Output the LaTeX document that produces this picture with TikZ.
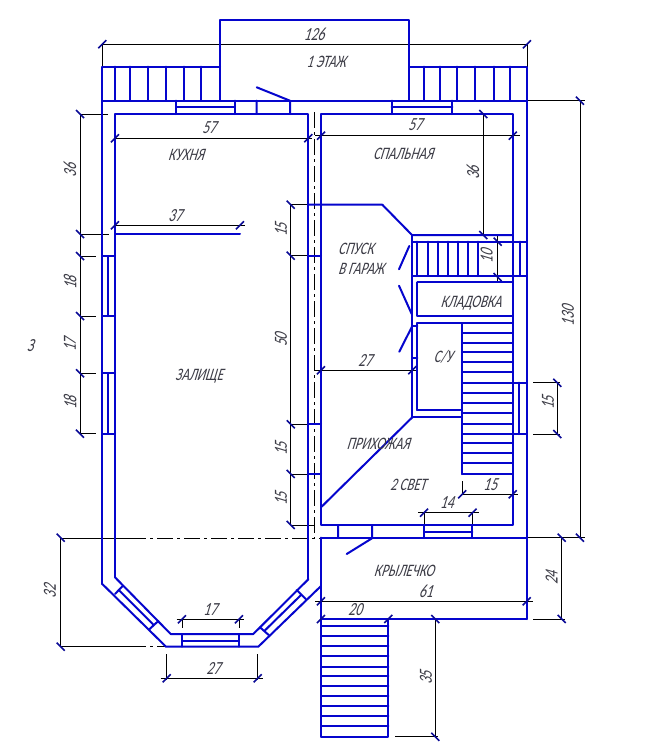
\documentclass[tikz,border=0pt]{standalone}
\usepackage{fontspec}
\setmainfont{Carlito}
\newfontfamily\draftfont[FakeSlant=0.3,FakeStretch=0.74]{Carlito}
\definecolor{wallblue}{RGB}{5,5,205}
\definecolor{tickblue}{RGB}{10,10,150}
\definecolor{labelgrey}{RGB}{60,60,70}
\tikzset{
  wall/.style={draw=wallblue,line width=2pt,line cap=round,line join=round},
  dimline/.style={draw=black,line width=0.9pt},
  axisline/.style={draw=black,line width=0.9pt,dash pattern=on 16pt off 4pt on 3pt off 4pt},
  tickmark/.style={draw=tickblue,line width=1.6pt},
  roomlabel/.style={font=\draftfont\fontsize{17.5}{19}\selectfont,text=labelgrey,inner sep=0pt},
  dimlabel/.style={font=\draftfont\fontsize{18.5}{20}\selectfont,text=labelgrey,inner sep=0pt},
}
\newcommand{\HTick}[2]{\draw[tickmark] (#1-4,#2+4) -- (#1+4,#2-4);}
\newcommand{\VTick}[2]{\draw[tickmark] (#1-4,#2-4) -- (#1+4,#2+4);}
\begin{document}
\begin{tikzpicture}[x=1pt,y=-1pt]
\useasboundingbox (0,0) rectangle (659,744);
\fill[white] (0,0) rectangle (659,744);

% ---------- dimension lines
\draw[dimline] (102.3,66.7) -- (102.3,44.3) -- (527,44.3) -- (527,66.7);
\draw[dimline] (115,138.3) -- (312,138.3);
\draw[dimline] (315,135.7) -- (520,135.7);
\draw[dimline] (108,114) -- (80,114) -- (80,234) -- (109,234);
\draw[dimline] (80,234) -- (80,433.7);
\draw[dimline] (80,256) -- (96,256) (80,316) -- (96,316) (80,373.3) -- (96,373.3) (80,433.7) -- (96,433.7);
\draw[dimline] (115,225.3) -- (245,225.3);
\draw[dimline] (483.3,114) -- (483.3,235);
\draw[dimline] (497.6,235) -- (497.6,281.7);
\draw[dimline] (527,100.7) -- (585,100.7) (580,100.7) -- (580,537.7);
\draw[dimline] (290.7,204.7) -- (290.7,525);
\draw[dimline] (290.7,204.7) -- (308,204.7) (290.7,255.7) -- (308,255.7) (290.7,424.3) -- (308,424.3) (290.7,474) -- (308,474) (290.7,525) -- (315,525);
\draw[dimline] (314,370.3) -- (418,370.3);
\draw[dimline] (533,382.7) -- (560,382.7) (533,434) -- (560,434) (557.3,382.7) -- (557.3,434);
\draw[dimline] (462.3,481) -- (462.3,494.3) -- (518,494.3);
\draw[dimline] (418.3,512.7) -- (479,512.7) (424,512.7) -- (424,525) (472.5,512.7) -- (472.5,525);
\draw[dimline] (526,537.7) -- (585,537.7) (561.7,537.7) -- (561.7,619) (533,619) -- (565,619);
\draw[dimline] (315,601.3) -- (533,601.3);
\draw[dimline] (395,736.7) -- (438,736.7) (435.3,619) -- (435.3,736.7);
\draw[dimline] (60.7,537.7) -- (60.7,646.7);
\draw[dimline] (60.7,538) -- (130,538) (60.7,646.7) -- (130,646.7);
\draw[axisline] (130,538) -- (321,538);
\draw[axisline] (130,646.7) -- (166,646.7);
\draw[axisline] (314.3,112) -- (314.3,538);
\draw[dimline] (176.7,619.3) -- (244,619.3) (182,619.3) -- (182,628) (239,619.3) -- (239,628);
\draw[dimline] (160.7,678.3) -- (262.7,678.3) (166.7,654) -- (166.7,680) (257.7,654) -- (257.7,680);

% ---------- walls
\draw[wall] (102.3,584) -- (102.3,66.7) -- (220,66.7) (220,100.7) -- (220,20) -- (409,20) -- (409,100.7) (409,66.7) -- (526.7,66.7) -- (526.7,619);
\draw[wall] (102.3,100.7) -- (526.7,100.7);
\foreach \sx in {115,130,148,166,184,201,424,440,456.7,475,494,510}
  \draw[wall] (\sx,66.7) -- (\sx,100.7);
\draw[wall] (115,577.3) -- (115,114) -- (308.3,114) -- (308.3,579.3);
\draw[wall] (115,577.3) -- (170.7,634) -- (253.3,634) -- (308.3,579.3);
\draw[wall] (102.3,584) -- (166,646.7) -- (258.3,646.7) -- (321,586);
\draw[wall] (115,234) -- (240,234);
\draw[wall] (321,525) -- (321,114) -- (512.7,114) -- (512.7,525) -- cycle;
\draw[wall] (321,537.7) -- (526.7,537.7);
\draw[wall] (321,537.7) -- (321,736.7);
\draw[wall] (308.3,204.7) -- (382.3,204.7) -- (412,235) -- (512.7,235);
\foreach \sy in {255.7,424.3,474}
  \draw[wall] (308.3,\sy) -- (321,\sy);
\draw[wall] (412.3,235) -- (412.3,417.3);
\draw[wall] (412.3,241.7) -- (526.7,241.7) (412.3,276) -- (526.7,276);
\foreach \sx in {417.3,427.7,437.7,447.7,457.7,467.7,478,520}
  \draw[wall] (\sx,241.7) -- (\sx,276);
\draw[wall] (417.3,282.3) -- (512.7,282.3) (417.3,282.3) -- (417.3,316) -- (512.7,316);
\draw[wall] (412.3,326) -- (417.3,326) (412.3,358.3) -- (417.3,358.3);
\draw[wall] (417.3,410) -- (417.3,322.7) -- (462,322.7) -- (462,474);
\draw[wall] (417.3,410) -- (462,410) (412.3,417.3) -- (462,417.3);
\draw[wall] (412.3,417.3) -- (321,507.3);
\foreach \sy in {323.3,333.3,342.7,351.7,362,372.3,382.7,392.7,402.7,413.3,424,434,443.3,453.3,463.3,474}
  \draw[wall] (462,\sy) -- (512.7,\sy);
\draw[wall] (512.7,382.7) -- (526.7,382.7) (512.7,434) -- (526.7,434) (519.3,382.7) -- (519.3,434);
\draw[wall] (409.3,246) -- (399,269.3) (399,285.7) -- (411.7,314) (412.3,326) -- (399.3,351.7);
\draw[wall] (176,100.7) -- (176,114) (235,100.7) -- (235,114) (176,106.7) -- (235,106.7);
\draw[wall] (256.7,100.7) -- (256.7,114) (290,100.7) -- (290,114) (256.7,87.3) -- (290,100.7);
\draw[wall] (391.7,100.7) -- (391.7,114) (452.3,100.7) -- (452.3,114) (391.7,106.7) -- (452.3,106.7);
\draw[wall] (102.3,256) -- (115,256) (102.3,316) -- (115,316) (108.3,256) -- (108.3,316);
\draw[wall] (102.3,373.3) -- (115,373.3) (102.3,433.7) -- (115,433.7) (108.3,373.3) -- (108.3,433.7);
\draw[wall] (338,525) -- (338,537.7) (372,525) -- (372,537.7) (372,538.3) -- (346.7,554);
\draw[wall] (424,525) -- (424,537.7) (472.3,525) -- (472.3,537.7) (424,532) -- (472.3,532);
\draw[wall] (122.7,586) -- (115,594) (158.3,621) -- (149.3,629.3) (118.8,590) -- (153.8,625);
\draw[wall] (296.7,590) -- (306,599.3) (260,627.3) -- (268.7,635) (301.3,594.7) -- (264.3,631);
\draw[wall] (182,634) -- (182,646.7) (239,634) -- (239,646.7) (182,640.7) -- (239,640.7);
\draw[wall] (321,619) -- (526.7,619);
\draw[wall] (388.3,619) -- (388.3,736.7) -- (321,736.7);
\foreach \sy in {625.7,635.7,645.7,656,666.7,676,686,696,706,716,726}
  \draw[wall] (321,\sy) -- (388.3,\sy);

% ---------- tick marks
\HTick{102.3}{44.3}\HTick{527}{44.3}
\HTick{115}{138.3}\HTick{308.3}{138.3}
\HTick{321}{135.7}\HTick{512.7}{135.7}
\HTick{115}{225.3}\HTick{240}{225.3}
\VTick{80}{114}\VTick{80}{234}\VTick{80}{256}\VTick{80}{316}\VTick{80}{373.3}\VTick{80}{433.7}
\VTick{483.3}{114}\VTick{483.3}{235}
\VTick{497.6}{241.7}\VTick{497.6}{277}
\VTick{580}{100.7}\VTick{580}{537.7}
\VTick{290.7}{204.7}\VTick{290.7}{255.7}\VTick{290.7}{424.3}\VTick{290.7}{474}\VTick{290.7}{525}
\HTick{321}{370.3}\HTick{412.3}{370.3}
\VTick{557.3}{382.7}\VTick{557.3}{434}
\HTick{462.3}{494.3}\HTick{512.7}{494.3}
\HTick{424}{512.7}\HTick{472.5}{512.7}
\VTick{561.7}{537.7}\VTick{561.7}{619}
\HTick{321}{601.3}\HTick{526.7}{601.3}
\HTick{321}{619}\HTick{388.3}{619}
\VTick{435.3}{619}\VTick{435.3}{736.7}
\VTick{60.7}{537.7}\VTick{60.7}{646.7}
\HTick{182}{619.3}\HTick{239}{619.3}
\HTick{166.7}{678.3}\HTick{257.7}{678.3}

% ---------- room labels
\node[roomlabel] (l1) at (326,62) {1 ЭТАЖ};
\node[roomlabel] (l2) at (186,155) {КУХНЯ};
\node[roomlabel] (l3) at (403,154) {СПАЛЬНАЯ};
\node[roomlabel,anchor=west] (l4) at (338,249) {СПУСК};
\node[roomlabel,anchor=west] (l5) at (338,269) {В ГАРАЖ};
\node[roomlabel] (l6) at (471,303) {КЛАДОВКА};
\node[roomlabel] (l7) at (443,357) {С/У};
\node[roomlabel] (l8) at (199,376) {ЗАЛИЩЕ};
\node[roomlabel] (l9) at (378,444) {ПРИХОЖАЯ};
\node[roomlabel] (l10) at (408,485) {2 СВЕТ};
\node[roomlabel] (l11) at (404,571) {КРЫЛЕЧКО};
\node[dimlabel] (l12) at (30,346) {З};

% ---------- dimension labels
\node[dimlabel] (d1) at (314,34) {126};
\node[dimlabel] (d2) at (209,128) {57};
\node[dimlabel] (d3) at (415,125) {57};
\node[dimlabel] (d4) at (175,216) {37};
\node[dimlabel,rotate=90] (d5) at (70,171) {36};
\node[dimlabel,rotate=90] (d6) at (70,283) {18};
\node[dimlabel,rotate=90] (d7) at (70,345) {17};
\node[dimlabel,rotate=90] (d8) at (70,403) {18};
\node[dimlabel,rotate=90] (d9) at (473,173) {36};
\node[dimlabel,rotate=90] (d10) at (486.7,256.7) {10};
\node[dimlabel,rotate=90] (d11) at (568,316) {130};
\node[dimlabel,rotate=90] (d12) at (281,230) {15};
\node[dimlabel,rotate=90] (d13) at (281,340) {50};
\node[dimlabel,rotate=90] (d14) at (281,449) {15};
\node[dimlabel,rotate=90] (d15) at (281,499) {15};
\node[dimlabel] (d16) at (365,360.7) {27};
\node[dimlabel,rotate=90] (d17) at (548,403) {15};
\node[dimlabel] (d18) at (490,484.3) {15};
\node[dimlabel] (d19) at (446.7,502.7) {14};
\node[dimlabel,rotate=90] (d20) at (551.7,578) {24};
\node[dimlabel] (d21) at (425.7,591.7) {61};
\node[dimlabel] (d22) at (355,610) {20};
\node[dimlabel,rotate=90] (d23) at (426,678) {35};
\node[dimlabel,rotate=90] (d24) at (50,591.7) {32};
\node[dimlabel] (d25) at (210,609.3) {17};
\node[dimlabel] (d26) at (213.3,668.3) {27};
\end{tikzpicture}
\end{document}
